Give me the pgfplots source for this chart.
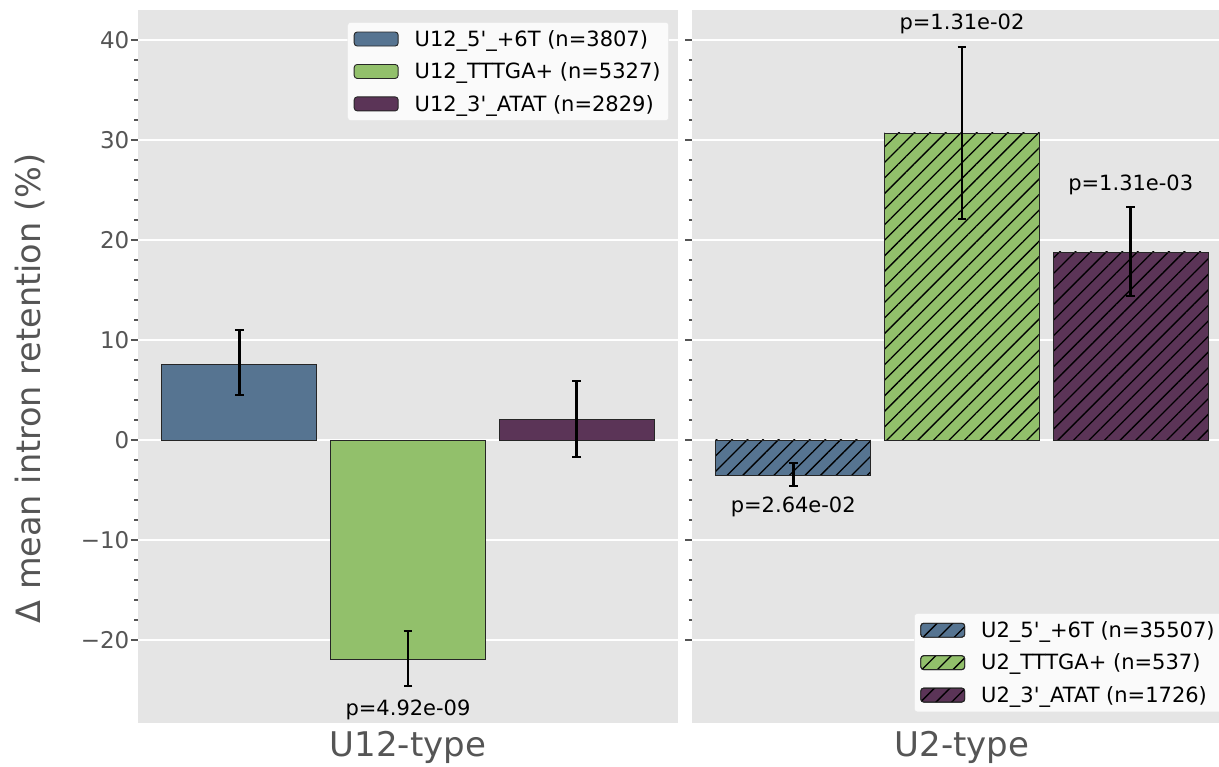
\documentclass[border=0pt]{standalone}
\usepackage{pgfplots}
\pgfplotsset{compat=1.18}
\usetikzlibrary{patterns.meta}
\usepackage{fontspec}
\setmainfont{DejaVu Sans}
\newfontfamily\dv{DejaVu Sans}
\definecolor{cblue}{RGB}{86,116,145}
\definecolor{cgreen}{RGB}{146,192,107}
\definecolor{cpurple}{RGB}{91,52,87}
\definecolor{bgg}{RGB}{229,229,229}
\definecolor{legbg}{RGB}{250,250,250}
\definecolor{tickg}{RGB}{85,85,85}
\newcommand\fleg{\dv\fontsize{21}{25}\selectfont}
\newcommand\fbig{\dv\fontsize{34}{40}\selectfont}
\newcommand\fylab{\dv\fontsize{33.5}{40}\selectfont}
\newcommand\ftick{\dv\fontsize{23}{27}\selectfont}

\pgfplotsset{
  panel/.style={
    scale only axis, width=540pt, height=713pt,
    xmin=-0.6, xmax=2.6, ymin=-28.3, ymax=43,
    axis background/.style={fill=bgg},
    axis line style={draw=none},
    ytick={-20,-10,0,10,20,30,40},
    minor y tick num=4,
    ymajorgrids, major grid style={white, line width=1.4pt},
    tick align=outside,
    major tick length=7pt, minor tick length=3.5pt,
    every tick/.style={tickg, line width=1.3pt},
    xtick={1}, xtick style={draw=none},
    xticklabel style={font=\fbig, text=tickg, inner sep=1pt},
    yticklabel style={font=\ftick, text=tickg, inner sep=1.5pt},
    ytick pos=left, xtick pos=bottom,
    clip=false,
    legend cell align=left,
    legend style={font=\fleg, fill=legbg,
      draw=black!10, rounded corners=3pt, inner xsep=6pt, inner ysep=6pt, row sep=11pt},
  },
  mybar/.style={ybar, bar width=0.92, bar shift=0pt, draw=black!85, line width=0.9pt,
     area legend,
     legend image code/.code={\draw[##1] (0pt,-7pt) rectangle (44pt,7pt); \path (58pt,0pt);},
     error bars/y dir=both, error bars/y explicit,
     error bars/error bar style={black, line width=2.6pt},
     error bars/error mark options={black, rotate=90, line width=2pt, mark size=4.3pt}},
  hatched/.style={pattern color=black, postaction={pattern={Lines[angle=45,distance=11pt,line width=1.3pt]}}},
}

\begin{document}
\begin{tikzpicture}
\begin{axis}[panel, at={(138pt,44pt)}, anchor=south west,
  xticklabels={U12-type},
  yticklabels={−20,−10,0,10,20,30,40},
  ylabel={Δ mean intron retention (\%)},
  every axis y label/.style={at={(axis description cs:-0.2,0.469)}, rotate=90, anchor=center, font=\fylab, text=tickg},
  legend style={at={(0.983,0.983)}, anchor=north east}]
\addplot[mybar, fill=cblue] coordinates {(0,7.6) += (0,3.4) -= (0,3.1)};
\addlegendentry{U12\_5'\_+6T (n=3807)}
\addplot[mybar, fill=cgreen] coordinates {(1,-21.9) += (0,2.8) -= (0,2.7)};
\addlegendentry{U12\_TTTGA+ (n=5327)}
\addplot[mybar, fill=cpurple] coordinates {(2,2.1) += (0,3.8) -= (0,3.8)};
\addlegendentry{U12\_3'\_ATAT (n=2829)}
\node[font=\fleg] at (axis cs:1,-27.0) {p=4.92e-09};
\end{axis}
\begin{axis}[panel, at={(692pt,44pt)}, anchor=south west,
  xticklabels={U2-type},
  yticklabels={,,,,,,},
  legend style={at={(0.983,0.0154)}, anchor=south east}]
\addplot[mybar, fill=cblue, hatched] coordinates {(0,-3.5) += (0,1.2) -= (0,1.1)};
\addlegendentry{U2\_5'\_+6T (n=35507)}
\addplot[mybar, fill=cgreen, hatched] coordinates {(1,30.7) += (0,8.6) -= (0,8.6)};
\addlegendentry{U2\_TTTGA+ (n=537)}
\addplot[mybar, fill=cpurple, hatched] coordinates {(2,18.8) += (0,4.5) -= (0,4.4)};
\addlegendentry{U2\_3'\_ATAT (n=1726)}
\node[font=\fleg] at (axis cs:0,-6.7) {p=2.64e-02};
\node[font=\fleg] at (axis cs:1,41.6) {p=1.31e-02};
\node[font=\fleg] at (axis cs:2,25.5) {p=1.31e-03};
\end{axis}
\pgfresetboundingbox
\useasboundingbox (0,0) rectangle (1219pt,767pt);
\end{tikzpicture}
\end{document}
